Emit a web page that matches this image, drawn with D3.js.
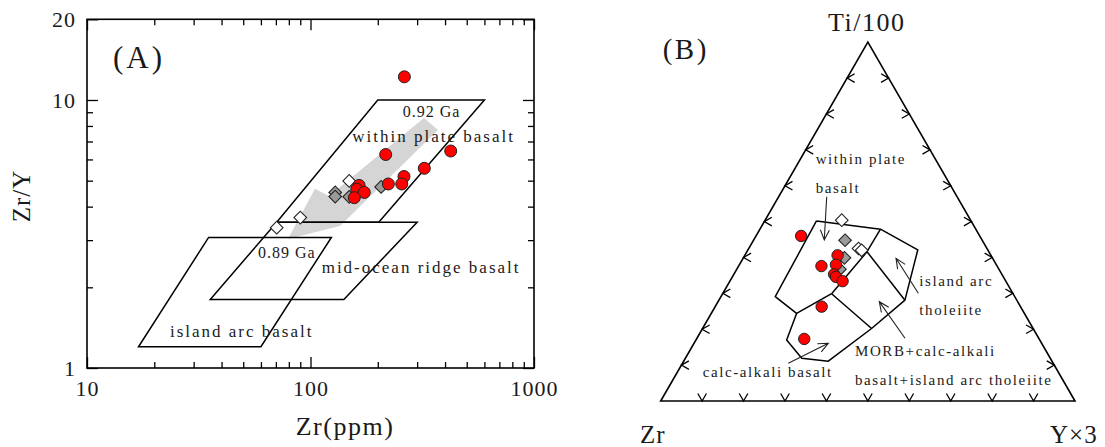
<!DOCTYPE html>
<html><head><meta charset="utf-8">
<script src="https://cdn.jsdelivr.net/npm/d3@7"></script>
<style>
html,body{margin:0;padding:0;background:#fff;}
svg text{font-family:"Liberation Serif","Times New Roman",serif;fill:#1a1a1a;}
</style></head>
<body>
<svg id="chart" width="1105" height="447"></svg>
<script>
// ---------------- Panel A data (Zr ppm, Zr/Y) ----------------
const redA_Zr   = [263, 217, 424, 323, 262, 256, 223, 165, 161, 174, 157];
const redA_ZrY  = [12.2, 6.26, 6.45, 5.56, 5.18, 4.86, 4.86, 4.80, 4.64, 4.52, 4.32];
const grayA_Zr  = [129, 129, 149, 207];
const grayA_ZrY = [4.52, 4.36, 4.35, 4.74];
const whiteA_Zr  = [149, 90, 70.6];
const whiteA_ZrY = [4.99, 3.64, 3.34];

const xTickMinor = [20,30,40,50,60,70,80,90,200,300,400,500,600,700,800,900];
const xTickMajor = [10,100,1000];
const yTickMinor = [2,3,4,5,6,7,8,9];
const yTickMajor = [1,10,20];

// field outlines (Zr, Zr/Y)
const fieldWPB  = [[200,10],[600,10],[202,3.5],[70.6,3.5]];
const fieldMORB = [[70.6,3.5],[300,3.5],[141,1.8],[35.6,1.8]];
const fieldIAB  = [[35,3.07],[124,3.07],[60,1.2],[17,1.2]];
const trendArrow = [[321.9,8.57],[121,4.38],[104.7,4.66],[79.3,3.03],[135.5,3.39],[372,7.73]];
const labelsA = [
  {t:"0.92 Ga", zr:258.5, zy:8.66, big:false},
  {t:"within plate basalt", zr:153.8, zy:6.99, big:true},
  {t:"0.89 Ga", zr:58.2, zy:2.57, big:false},
  {t:"mid-ocean ridge basalt", zr:112.2, zy:2.27, big:true},
  {t:"island arc basalt", zr:23.5, zy:1.30, big:true}
];

// ---------------- Panel B data ([Zr, Ti/100, Y*3] in %) ----------------
const redB   = [[43.1,46.0,10.9],[42.4,37.6,20.0],[37.0,40.6,22.4],[38.7,38.0,23.3],[40.5,35.3,24.2],
                [40.4,34.6,25.0],[39.4,33.4,27.2],[48.0,26.3,25.7],[56.7,17.3,26.0]];
const grayB  = [[33.1,44.8,22.1],[35.7,39.9,24.4],[38.4,36.7,24.9]];
const whiteB = [[31.1,50.4,18.5],[31.0,42.5,26.5],[30.5,42.0,27.5]];

const fieldB_outer = [[37.3,50.2,12.5],[23.0,47.9,29.1],[16.9,42.1,41.0],[27.0,28.1,44.9],[39.0,20.2,40.8],
                      [54.0,11.1,34.9],[60.0,11.9,28.1],[61.1,17.0,21.9],[55.0,24.4,20.6],[57.8,29.1,13.1],[37.3,50.2,12.5]];
const fieldB_inner = [
  [[23.0,47.9,29.1],[29.4,41.6,29.0]],
  [[29.4,41.6,29.0],[43.8,29.9,26.3]],
  [[43.8,29.9,26.3],[55.0,24.4,20.6]],
  [[43.8,29.9,26.3],[39.0,20.2,40.8]],
  [[29.4,41.6,29.0],[27.0,28.1,44.9]]
];
const ternTicks = [10,20,30,40,50,60,70,80,90];
const labelsB = [
  {t:"within plate", p:[29.57,66.05,4.38]},
  {t:"basalt", p:[33.64,57.89,8.47]},
  {t:"island arc", p:[21.52,32.13,46.35]},
  {t:"tholeiite", p:[25.59,23.97,50.44]},
  {t:"MORB+calc-alkali", p:[46.83,12.54,40.63]},
  {t:"basalt+island arc tholeiite", p:[50.87,4.46,44.67]},
  {t:"calc-alkali basalt", p:[86.48,6.77,6.75]}
];
const arrowsB = [
  {from:[31.46,56.94,11.6], to:[38.08,44.87,17.05]},
  {from:[22.81,30.02,47.17], to:[23.32,39.77,36.91]},
  {from:[32.29,17.48,50.23], to:[33.40,27.68,38.92]},
  {from:[63.94,10.51,25.55], to:[51.51,16.08,32.41]}
];

// ---------------- drawing ----------------
const svg = d3.select("#chart");
svg.append("rect").attr("width",1105).attr("height",447).attr("fill","#fff");

// ===== Panel A =====
const x = d3.scaleLog().domain([10,1000]).range([87,534]);
const y = d3.scaleLog().domain([1,20]).range([368,19.3]);
const gA = svg.append("g");

function styleAxis(g){
  g.select(".domain").remove();
  g.selectAll(".tick line").attr("stroke","#000").attr("stroke-width",1.3);
}
gA.append("g").attr("transform","translate(0,368)")
  .call(d3.axisBottom(x).tickValues(xTickMinor).tickSize(-6).tickSizeOuter(0).tickFormat(""))
  .call(styleAxis);
gA.append("g").attr("transform","translate(0,19.3)")
  .call(d3.axisTop(x).tickValues(xTickMinor).tickSize(-6).tickSizeOuter(0).tickFormat(""))
  .call(styleAxis);
gA.append("g").attr("transform","translate(87,0)")
  .call(d3.axisLeft(y).tickValues(yTickMinor).tickSize(-6).tickSizeOuter(0).tickFormat(""))
  .call(styleAxis);
gA.append("g").attr("transform","translate(534,0)")
  .call(d3.axisRight(y).tickValues(yTickMinor).tickSize(-6).tickSizeOuter(0).tickFormat(""))
  .call(styleAxis);
const axB = gA.append("g").attr("transform","translate(0,368)")
  .call(d3.axisBottom(x).tickValues(xTickMajor).tickSize(-11).tickSizeOuter(0).tickPadding(12).tickFormat(d3.format("d")))
  .call(styleAxis);
axB.selectAll("text").attr("font-size",22).attr("letter-spacing",1).attr("fill","#1a1a1a")
  .style("font-family",'"Liberation Serif","Times New Roman",serif');
gA.append("g").attr("transform","translate(0,19.3)")
  .call(d3.axisTop(x).tickValues(xTickMajor).tickSize(-11).tickSizeOuter(0).tickFormat(""))
  .call(styleAxis);
const axL = gA.append("g").attr("transform","translate(87,0)")
  .call(d3.axisLeft(y).tickValues(yTickMajor).tickSize(-11).tickSizeOuter(0).tickPadding(11).tickFormat(d3.format("d")))
  .call(styleAxis);
axL.selectAll("text").attr("font-size",22).attr("letter-spacing",1).attr("fill","#1a1a1a")
  .style("font-family",'"Liberation Serif","Times New Roman",serif');
gA.append("g").attr("transform","translate(534,0)")
  .call(d3.axisRight(y).tickValues(yTickMajor).tickSize(-11).tickSizeOuter(0).tickFormat(""))
  .call(styleAxis);

// trend arrow
gA.append("path")
  .attr("d", d3.line().x(d=>x(d[0])).y(d=>y(d[1]))(trendArrow) + "Z")
  .attr("fill","#d5d5d5").attr("stroke","none");

// fields
[fieldWPB, fieldMORB, fieldIAB].forEach(f=>{
  gA.append("path").attr("d", d3.line().x(d=>x(d[0])).y(d=>y(d[1]))(f)+"Z")
    .attr("fill","none").attr("stroke","#000").attr("stroke-width",1.5);
});

// frame
gA.append("rect").attr("x",x(10)).attr("y",y(20)).attr("width",x(1000)-x(10)).attr("height",y(1)-y(20))
  .attr("fill","none").attr("stroke","#000").attr("stroke-width",1.6);

// labels
labelsA.forEach(l=>{
  gA.append("text").attr("x",x(l.zr)).attr("y",y(l.zy)).text(l.t)
    .attr("font-size", l.big?17:16).attr("letter-spacing", l.big?2:1);
});
gA.append("text").attr("x",113).attr("y",68).text("(A)").attr("font-size",31).attr("letter-spacing",3);
gA.append("text").attr("x",345).attr("y",435).attr("text-anchor","middle").text("Zr(ppm)")
  .attr("font-size",26).attr("letter-spacing",1.5);
gA.append("text").attr("transform","translate(30,196) rotate(-90)").attr("text-anchor","middle")
  .text("Zr/Y").attr("font-size",25).attr("letter-spacing",1);

// points
const diamond = d3.symbol().type(d3.symbolSquare).size(80);
function drawDiamonds(g, pts, fill){
  g.selectAll(null).data(pts).enter().append("path")
    .attr("d", diamond)
    .attr("transform", d=>`translate(${d[0]},${d[1]}) rotate(45)`)
    .attr("fill", fill).attr("stroke","#222").attr("stroke-width",1.1);
}
function drawCircles(g, pts, r){
  g.selectAll(null).data(pts).enter().append("circle")
    .attr("cx",d=>d[0]).attr("cy",d=>d[1]).attr("r",r)
    .attr("fill","#ff0000").attr("stroke","#222").attr("stroke-width",1);
}
const ptsA = gA.append("g");
drawDiamonds(ptsA, whiteA_Zr.map((v,i)=>[x(v), y(whiteA_ZrY[i])]), "#fff");
drawDiamonds(ptsA, grayA_Zr.map((v,i)=>[x(v), y(grayA_ZrY[i])]), "#9a9a9a");
drawCircles(ptsA, redA_Zr.map((v,i)=>[x(v), y(redA_ZrY[i])]), 6);

// ===== Panel B =====
const tx = d3.scaleLinear().domain([0,1]).range([660.7,1075]);
const ty = d3.scaleLinear().domain([0,1]).range([401,42.2]);
function proj(p){
  const s = p[0]+p[1]+p[2];
  const a = p[1]/s, b = p[2]/s;
  return [tx(b + a/2), ty(a)];
}
const gB = svg.append("g");
const tri = [[100,0,0],[0,100,0],[0,0,100]].map(proj);
gB.append("path").attr("d", d3.line()(tri)+"Z")
  .attr("fill","none").attr("stroke","#000").attr("stroke-width",1.6).attr("stroke-linejoin","miter");

const chev = [];
ternTicks.forEach(f=>{
  const pb = proj([100-f,0,f]);
  chev.push(`M${pb[0]-4.3},${pb[1]-7.5}L${pb[0]},${pb[1]}L${pb[0]+4.3},${pb[1]-7.5}`);
  const pl = proj([100-f,f,0]);
  chev.push(`M${pl[0]+7.5},${pl[1]-4.3}L${pl[0]},${pl[1]}L${pl[0]+7.5},${pl[1]+4.3}`);
  const pr = proj([0,f,100-f]);
  chev.push(`M${pr[0]-7.5},${pr[1]-4.3}L${pr[0]},${pr[1]}L${pr[0]-7.5},${pr[1]+4.3}`);
});
gB.append("path").attr("d",chev.join("")).attr("fill","none").attr("stroke","#000").attr("stroke-width",1.3);

gB.append("path").attr("d", d3.line()(fieldB_outer.map(proj)))
  .attr("fill","none").attr("stroke","#000").attr("stroke-width",1.5).attr("stroke-linejoin","round");
fieldB_inner.forEach(seg=>{
  gB.append("path").attr("d", d3.line()(seg.map(proj)))
    .attr("fill","none").attr("stroke","#000").attr("stroke-width",1.5);
});

arrowsB.forEach(a=>{
  const p0 = proj(a.from), p1 = proj(a.to);
  const ang = Math.atan2(p1[1]-p0[1], p1[0]-p0[0]);
  const L = 11, h = 0.42;
  const w1 = [p1[0]-L*Math.cos(ang-h), p1[1]-L*Math.sin(ang-h)];
  const w2 = [p1[0]-L*Math.cos(ang+h), p1[1]-L*Math.sin(ang+h)];
  gB.append("path").attr("d",`M${p0[0]},${p0[1]}L${p1[0]},${p1[1]}M${w1[0]},${w1[1]}L${p1[0]},${p1[1]}L${w2[0]},${w2[1]}`)
    .attr("fill","none").attr("stroke","#222").attr("stroke-width",1.1);
});

labelsB.forEach(l=>{
  const p = proj(l.p);
  gB.append("text").attr("x",p[0]).attr("y",p[1]).text(l.t).attr("font-size",15).attr("letter-spacing",1.6);
});
gB.append("text").attr("x",866.7).attr("y",30.7).attr("text-anchor","middle").text("Ti/100")
  .attr("font-size",26).attr("letter-spacing",1.5);
gB.append("text").attr("x",640).attr("y",443).text("Zr").attr("font-size",25).attr("letter-spacing",1);
gB.append("text").attr("x",1050).attr("y",443).text("Y×3").attr("font-size",25).attr("letter-spacing",1);
gB.append("text").attr("x",662.7).attr("y",58.5).text("(B)").attr("font-size",29).attr("letter-spacing",2.5);

const ptsB = gB.append("g");
drawDiamonds(ptsB, whiteB.map(proj), "#fff");
drawDiamonds(ptsB, grayB.map(proj), "#9a9a9a");
drawCircles(ptsB, redB.map(proj), 5.7);
</script>
</body></html>
